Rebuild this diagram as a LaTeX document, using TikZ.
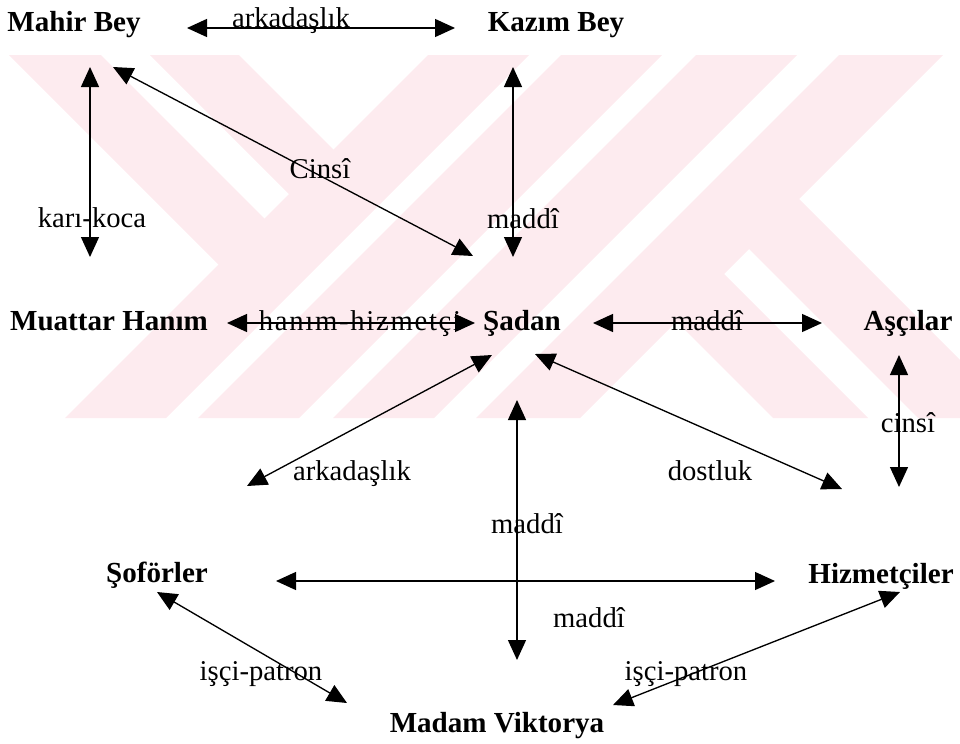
\documentclass[tikz,border=0pt]{standalone}
\usepackage{fontspec}
\setmainfont{Liberation Serif}
\usetikzlibrary{arrows.meta}

\definecolor{wmpink}{RGB}{253,235,239}

\begin{document}
\begin{tikzpicture}[x=0.75pt, y=-0.75pt,
  person/.style={font=\bfseries\fontsize{21.8}{24}\selectfont, inner sep=0pt, anchor=base},
  rel/.style={font=\fontsize{21.5}{24}\selectfont, inner sep=0pt, anchor=base},
  link/.style={line width=1pt,
    {Triangle[length=15pt,width=13.5pt]}-{Triangle[length=15pt,width=13.5pt]}},
  stripe/.style={fill=wmpink, draw=none}]

\useasboundingbox (0,0) rectangle (960,743);

% background emblem: diagonal pink stripes
\begin{scope}
  \clip (0,55) rectangle (960,418);
  % four rising stripes
  \fill[stripe] (428,55) -- (529,55) -- (166,418) -- (65,418) -- cycle;
  \fill[stripe] (561,55) -- (662,55) -- (299,418) -- (198,418) -- cycle;
  \fill[stripe] (696,55) -- (797,55) -- (434,418) -- (333,418) -- cycle;
  \fill[stripe] (839,55) -- (943,55) -- (580,418) -- (476,418) -- cycle;
  % falling stripes, upper left
  \fill[stripe] (9,55) -- (101,55) -- (288,242) -- (242,288) -- cycle;
  \fill[stripe] (150,55) -- (239,55) -- (357,173) -- (312.5,217.5) -- cycle;
  % falling stripes, lower right
  \fill[stripe] (652.5,297.5) -- (700,250) -- (868,418) -- (773,418) -- cycle;
  \fill[stripe] (725,225) -- (775,175) -- (1018,418) -- (918,418) -- cycle;
\end{scope}

% people
\node[person] (mahir)    at (74,31.5)  {Mahir Bey};
\node[person] (kazim)    at (556,31.5) {Kazım Bey};
\node[person] (muattar)  at (109,330)  {Muattar Hanım};
\node[person] (sadan)    at (522,330)  {Şadan};
\node[person] (ascilar)  at (908,330)  {Aşçılar};
\node[person] (soforler) at (157,582)  {Şoförler};
\node[person] (hizmet)   at (881,583)  {Hizmetçiler};
\node[person] (madam)    at (497,732)  {Madam Viktorya};

% connector ends
\coordinate (mk-a) at (187,28);   \coordinate (mk-b) at (455,28);
\coordinate (mm-a) at (90,67);    \coordinate (mm-b) at (90,257);
\coordinate (ms-a) at (113,67);   \coordinate (ms-b) at (473,256);
\coordinate (ks-a) at (513,67);   \coordinate (ks-b) at (513,257);
\coordinate (hs-a) at (227,323);  \coordinate (hs-b) at (475,323);
\coordinate (sa-a) at (593,323);  \coordinate (sa-b) at (822,323);
\coordinate (so-a) at (492,355);  \coordinate (so-b) at (247,486);
\coordinate (sh-a) at (535,354);  \coordinate (sh-b) at (842,489);
\coordinate (ah-a) at (899,355);  \coordinate (ah-b) at (899,487);
\coordinate (sm-a) at (517,400);  \coordinate (sm-b) at (517,660);
\coordinate (oh-a) at (276,581);  \coordinate (oh-b) at (775,581);
\coordinate (om-a) at (157,592);  \coordinate (om-b) at (347,703);
\coordinate (hm-a) at (900,592);  \coordinate (hm-b) at (613,705);

% relations
\draw[link] (mk-a) -- (mk-b);
\draw[link] (mm-a) -- (mm-b);
\draw[link] (ms-a) -- (ms-b);
\draw[link] (ks-a) -- (ks-b);
\draw[link] (hs-a) -- (hs-b);
\draw[link] (sa-a) -- (sa-b);
\draw[link] (so-a) -- (so-b);
\draw[link] (sh-a) -- (sh-b);
\draw[link] (ah-a) -- (ah-b);
\draw[link] (sm-a) -- (sm-b);
\draw[link] (oh-a) -- (oh-b);
\draw[link] (om-a) -- (om-b);
\draw[link] (hm-a) -- (hm-b);

% relation labels
\node[rel] (l-mk) at (291,27)  {arkadaşlık};
\node[rel] (l-mm) at (92,227)  {karı-koca};
\node[rel] (l-ms) at (320,178) {Cinsî};
\node[rel] (l-ks) at (523,228) {maddî};
\node[rel] (l-hs) at (360,330) {\addfontfeature{LetterSpace=6}hanım-hizmetçi};
\node[rel] (l-sa) at (707,330) {maddî};
\node[rel] (l-ah) at (908,432) {cinsî};
\node[rel] (l-so) at (352,480) {arkadaşlık};
\node[rel] (l-sh) at (710,480) {dostluk};
\node[rel] (l-sm) at (527,533) {maddî};
\node[rel] (l-oh) at (589,627) {maddî};
\node[rel] (l-om) at (261,680) {işçi-patron};
\node[rel] (l-hm) at (686,680) {işçi-patron};

\end{tikzpicture}
\end{document}
